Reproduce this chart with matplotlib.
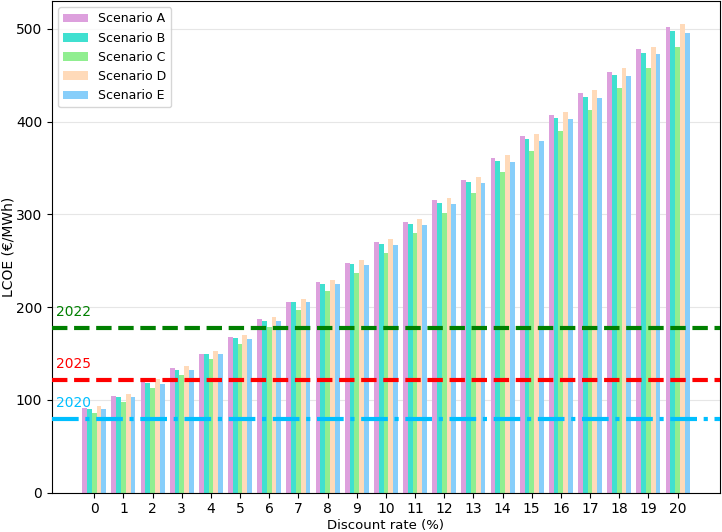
import numpy as np
import matplotlib
matplotlib.use('Agg')
import matplotlib.pyplot as plt

rates = list(range(21))

scen_a = [91, 104, 120, 134, 150, 168, 187, 206, 227, 248, 270, 292, 315, 337, 361, 384, 407, 431, 454, 478, 502]
scen_b = [90, 103, 118, 132, 149, 167, 185, 205, 225, 246, 268, 290, 312, 335, 358, 381, 404, 427, 450, 474, 498]
scen_c = [86, 98, 113, 127, 144, 160, 179, 197, 217, 237, 258, 280, 301, 323, 346, 368, 390, 413, 436, 458, 481]
scen_d = [93, 106, 122, 136, 153, 170, 189, 209, 229, 251, 273, 295, 318, 340, 364, 387, 410, 434, 458, 481, 505]
scen_e = [90, 103, 117, 132, 149, 166, 185, 205, 225, 245, 267, 289, 311, 334, 357, 379, 403, 426, 449, 473, 496]

names = ['Scenario A', 'Scenario B', 'Scenario C', 'Scenario D', 'Scenario E']
colors = ['plum', 'turquoise', 'lightgreen', 'peachpuff', 'lightskyblue']

ref_years = ['2022', '2025', '2020']
ref_values = [177, 121, 79]
ref_colors = ['green', 'red', 'deepskyblue']
ref_styles = ['--', '--', '-.']

fig = plt.figure(figsize=(7.22, 5.32), dpi=100)
ax = fig.add_axes([0.072, 0.074, 0.925, 0.924])

x = np.arange(len(rates))
w = 0.165
for i, (vals, name, c) in enumerate(zip([scen_a, scen_b, scen_c, scen_d, scen_e], names, colors)):
    ax.bar(x + (i - 2) * w, vals, width=w, color=c, label=name, zorder=2)

for yr, val, c, ls in zip(ref_years, ref_values, ref_colors, ref_styles):
    ax.axhline(val, color=c, linestyle=ls, linewidth=3, zorder=3)
    ax.text(-1.3, val + 10, yr, color=c, fontsize=10, va='bottom', ha='left')

ax.set_xticks(x)
ax.set_xticklabels([str(r) for r in rates])
ax.set_xlim(-1.45, 21.45)
ax.set_ylim(0, 530)
ax.yaxis.grid(True, color='#e6e6e6', linewidth=0.8, zorder=0)
ax.set_axisbelow(True)
ax.set_xlabel('Discount rate (%)', fontsize=9.5, labelpad=2)
ax.set_ylabel('LCOE (€/MWh)', fontsize=10, labelpad=0)
ax.legend(loc='upper left', fontsize=9)

fig.savefig('out.png', dpi=100)
